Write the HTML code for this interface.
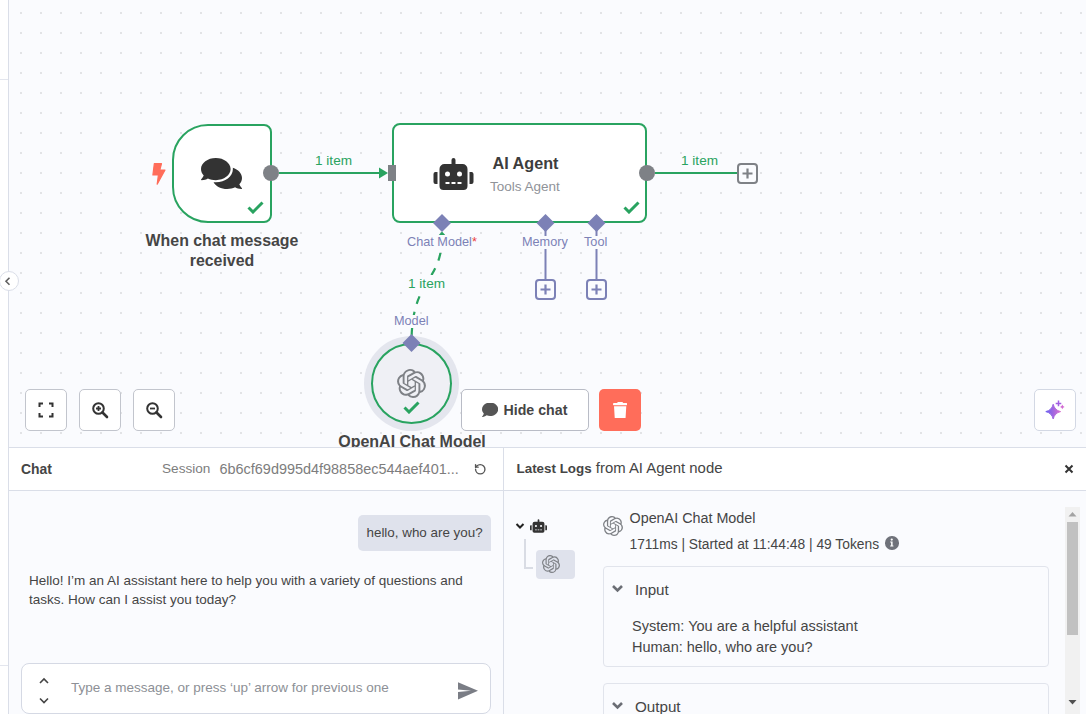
<!DOCTYPE html>
<html><head><meta charset="utf-8">
<style>
*{box-sizing:border-box;margin:0;padding:0}
html,body{width:1086px;height:714px;overflow:hidden;background:#fff;font-family:"Liberation Sans",sans-serif;color:#444}
.abs{position:absolute}
#canvas{position:absolute;left:9px;top:0;width:1077px;height:447px;background:#fafbfe;overflow:hidden}
#sidebar{position:absolute;left:0;top:0;width:9px;height:714px;background:#fff;border-right:1px solid #dadee8}
.node{position:absolute;background:#fff;border:2px solid #29a360}
.lbl{position:absolute;white-space:nowrap;font-weight:700;color:#454545;text-align:center}
.hl{position:absolute;white-space:nowrap;font-size:12.7px;color:#7c81b6}
.itm{position:absolute;white-space:nowrap;font-size:13.6px;color:#29a360}
.btn{position:absolute;background:#fff;border:1px solid #c2c5cd;border-radius:5px}
#bottom{position:absolute;left:9px;top:447px;width:1077px;height:267px;border-top:1px solid #dadee8;background:#fff}
</style></head>
<body>
<div id="sidebar"></div>
<div class="abs" style="left:0;top:79px;width:8px;height:1px;background:#e3e6ee"></div>
<div class="abs" style="left:0;top:665px;width:8px;height:1px;background:#e3e6ee"></div>

<div id="canvas">
<svg width="1077" height="447" style="position:absolute;left:0;top:0">
<defs><pattern id="dots" x="0" y="0" width="20" height="20" patternUnits="userSpaceOnUse">
<rect x="11" y="12" width="2" height="2" fill="#e2e3e6"/></pattern></defs>
<rect width="1077" height="447" fill="url(#dots)"/>
</svg>
</div>


<!-- connections -->
<svg width="1086" height="447" style="position:absolute;left:0;top:0;overflow:visible">
<line x1="279" y1="173" x2="384" y2="173" stroke="#29a360" stroke-width="2"/>
<path d="M379 167.5 L388 173 L379 178.5 Z" fill="#29a360"/>
<line x1="655" y1="173" x2="738" y2="173" stroke="#29a360" stroke-width="2"/>
<path d="M442 236 C442 284 411.5 277 411.5 343" stroke="#29a360" stroke-width="2.2" fill="none" stroke-dasharray="8 8.2" stroke-dashoffset="15.5"/>
<line x1="545.5" y1="223" x2="545.5" y2="280" stroke="#7c81b6" stroke-width="2"/>
<line x1="596.5" y1="223" x2="596.5" y2="280" stroke="#7c81b6" stroke-width="2"/>
</svg>

<!-- trigger node -->
<div class="node" style="left:171.9px;top:123.5px;width:99.8px;height:99.6px;border-radius:36px 8px 8px 36px"></div>
<svg class="abs" style="left:152px;top:162.5px" width="14" height="22" viewBox="0 0 14 22"><path d="M2.300 0.700 L9.500 0.700 L7.800 7 L13 7 L5.200 21.200 L6.400 12 L0.900 12 Z" fill="#ff6d5a" stroke="#ff6d5a" stroke-width="1.200" stroke-linejoin="round"/></svg>
<svg class="abs" style="left:201px;top:158px" width="41" height="31" viewBox="0 32 576 448" preserveAspectRatio="none"><path fill="#333" d="M416 192c0-88.400-93.100-160-208-160S0 103.600 0 192c0 34.300 14.100 65.900 38 92-13.400 30.200-35.500 54.200-35.800 54.500-2.200 2.300-2.800 5.700-1.500 8.700S4.800 352 8 352c36.600 0 66.900-12.300 88.700-25 32.200 15.700 70.300 25 111.300 25 114.900 0 208-71.600 208-160zm122 220c23.900-26 38-57.700 38-92 0-66.900-53.500-124.200-129.300-148.100.9 6.600 1.300 13.300 1.300 20.100 0 105.900-107.700 192-240 192-10.800 0-21.300-.8-31.700-1.900C207.800 439.600 281.800 480 368 480c41 0 79.100-9.200 111.300-25 21.800 12.700 52.100 25 88.700 25 3.200 0 6.100-1.900 7.300-4.800 1.300-2.900.7-6.300-1.500-8.700-.3-.3-22.400-24.200-35.800-54.500z"/></svg>
<svg class="abs" style="left:247px;top:201px" width="17" height="13" viewBox="0 0 17 13"><path d="M1.5 6.5 L6 11 L15.5 1.5" stroke="#29a360" stroke-width="3" fill="none"/></svg>
<div class="abs" style="left:263px;top:165px;width:16px;height:16px;border-radius:50%;background:#7e8186"></div>
<div class="lbl" style="left:122px;top:230.5px;width:200px;font-size:15.9px;line-height:20px">When chat message<br>received</div>
<div class="itm" style="left:315px;top:153px">1 item</div>

<!-- AI agent node -->
<div class="node" style="left:391.6px;top:123.4px;width:255.6px;height:99.6px;border-radius:8px"></div>
<div class="abs" style="left:388px;top:165px;width:8px;height:16px;background:#7e8186"></div>
<svg class="abs" style="left:433px;top:157.5px" width="41" height="32" viewBox="0 0 640 512"><path fill="#333" d="M32 224H64V416H32A31.962 31.962 0 0 1 0 384V256A31.962 31.962 0 0 1 32 224Zm512-48V448a64.063 64.063 0 0 1-64 64H160a64.063 64.063 0 0 1-64-64V176a79.974 79.974 0 0 1 80-80H288V32a32 32 0 0 1 64 0V96H464A79.974 79.974 0 0 1 544 176ZM264 256a40 40 0 1 0-40 40A39.997 39.997 0 0 0 264 256Zm-8 128H192v32h64Zm96 0H288v32h64ZM456 256a40 40 0 1 0-40 40A39.997 39.997 0 0 0 456 256Zm-8 128H384v32h64ZM640 256V384a31.962 31.962 0 0 1-32 32H576V224h32A31.962 31.962 0 0 1 640 256Z"/></svg>
<div class="lbl" style="left:492.5px;top:154px;font-size:16.2px;text-align:left;color:#3d3d3d">AI Agent</div>
<div class="abs" style="left:490px;top:179px;font-size:13.5px;color:#909399;white-space:nowrap">Tools Agent</div>
<svg class="abs" style="left:623px;top:201px" width="17" height="13" viewBox="0 0 17 13"><path d="M1.5 6.5 L6 11 L15.5 1.5" stroke="#29a360" stroke-width="3" fill="none"/></svg>
<div class="abs" style="left:639px;top:165px;width:16px;height:16px;border-radius:50%;background:#7e8186"></div>
<div class="itm" style="left:681px;top:153px">1 item</div>
<div class="abs" style="left:737px;top:163px;width:21px;height:21px;border:2px solid #7e8186;border-radius:4px;background:#fafbfe"></div>
<svg class="abs" style="left:737px;top:163px" width="21" height="21"><path d="M10.5 5.5 V15.5 M5.5 10.5 H15.5" stroke="#7e8186" stroke-width="2.2"/></svg>

<!-- diamonds -->
<svg class="abs" style="left:0;top:0" width="700" height="447">
<path d="M442 214 L451 223 L442 232 L433 223 Z" fill="#7c81b6"/>
<path d="M545.5 214 L554.5 223 L545.5 232 L536.5 223 Z" fill="#7c81b6"/>
<path d="M596.5 214 L605.5 223 L596.5 232 L587.5 223 Z" fill="#7c81b6"/>
<path d="M436.5 237.5 L442 231.5 L447.5 237.5 Z" fill="#29a360"/>
</svg>
<div class="hl" style="left:407px;top:235px;background:#fafbfe;padding:0 1px 2px 1px;margin-left:-1px">Chat Model<span style="color:#ec3c3c">*</span></div>
<div class="hl" style="left:522px;top:235.8px;line-height:13px;background:#fafbfe">Memory</div>
<div class="hl" style="left:584px;top:235.8px;line-height:13px;background:#fafbfe">Tool</div>
<div class="abs" style="left:535px;top:279px;width:21px;height:21px;border:2px solid #7c81b6;border-radius:4px;background:#fafbfe"></div>
<svg class="abs" style="left:535px;top:279px" width="21" height="21"><path d="M10.5 5.5 V15.5 M5.5 10.5 H15.5" stroke="#7c81b6" stroke-width="2.2"/></svg>
<div class="abs" style="left:586px;top:279px;width:21px;height:21px;border:2px solid #7c81b6;border-radius:4px;background:#fafbfe"></div>
<svg class="abs" style="left:586px;top:279px" width="21" height="21"><path d="M10.5 5.5 V15.5 M5.5 10.5 H15.5" stroke="#7c81b6" stroke-width="2.2"/></svg>
<div class="itm" style="left:408px;top:275px;background:#fafbfe;padding:1px 0 4px 0">1 item</div>
<div class="hl" style="left:394px;top:315.2px;line-height:13px;background:#fafbfe">Model</div>

<!-- openai node -->
<div class="abs" style="left:364px;top:336px;width:95px;height:95px;border-radius:50%;background:#e4e6ee"></div>
<div class="abs" style="left:371px;top:343px;width:81px;height:81px;border-radius:50%;background:#eff0f5;border:2px solid #29a360"></div>
<svg class="abs" style="left:397px;top:369px" width="29" height="29" viewBox="0 0 24 24"><path fill="#7e8186" d="M22.2819 9.8211a5.9847 5.9847 0 0 0-.5157-4.9108 6.0462 6.0462 0 0 0-6.5098-2.9A6.0651 6.0651 0 0 0 4.9807 4.1818a5.9847 5.9847 0 0 0-3.9977 2.9 6.0462 6.0462 0 0 0 .7427 7.0966 5.98 5.98 0 0 0 .511 4.9107 6.051 6.051 0 0 0 6.5146 2.9001A5.9847 5.9847 0 0 0 13.2599 24a6.0557 6.0557 0 0 0 5.7718-4.2058 5.9894 5.9894 0 0 0 3.9977-2.9001 6.0557 6.0557 0 0 0-.7475-7.0729zm-9.022 12.6081a4.4755 4.4755 0 0 1-2.8764-1.0408l.1419-.0804 4.7783-2.7582a.7948.7948 0 0 0 .3927-.6813v-6.7369l2.02 1.1686a.071.071 0 0 1 .038.052v5.5826a4.504 4.504 0 0 1-4.4945 4.4944zm-9.6607-4.1254a4.4708 4.4708 0 0 1-.5346-3.0137l.142.0852 4.783 2.7582a.7712.7712 0 0 0 .7806 0l5.8428-3.3685v2.3324a.0804.0804 0 0 1-.0332.0615L9.74 19.9502a4.4992 4.4992 0 0 1-6.1408-1.6464zM2.3408 7.8956a4.485 4.485 0 0 1 2.3655-1.9728V11.6a.7664.7664 0 0 0 .3879.6765l5.8144 3.3543-2.0201 1.1685a.0757.0757 0 0 1-.071 0l-4.8303-2.7865A4.504 4.504 0 0 1 2.3408 7.872zm16.5963 3.8558L13.1038 8.364 15.1192 7.2a.0757.0757 0 0 1 .071 0l4.8303 2.7913a4.4944 4.4944 0 0 1-.6765 8.1042v-5.6772a.79.79 0 0 0-.407-.667zm2.0107-3.0231l-.142-.0852-4.7735-2.7818a.7759.7759 0 0 0-.7854 0L9.409 9.2297V6.8974a.0662.0662 0 0 1 .0284-.0615l4.8303-2.7866a4.4992 4.4992 0 0 1 6.6802 4.66zM8.3065 12.863l-2.02-1.1638a.0804.0804 0 0 1-.038-.0567V6.0742a4.4992 4.4992 0 0 1 7.3757-3.4537l-.142.0805L8.704 5.459a.7948.7948 0 0 0-.3927.6813zm1.0976-2.3654l2.602-1.4998 2.6069 1.4998v2.9994l-2.5974 1.4997-2.6067-1.4997Z"/></svg>
<svg class="abs" style="left:403px;top:401px" width="17" height="13" viewBox="0 0 17 13"><path d="M1.5 6.5 L6 11 L15.5 1.5" stroke="#29a360" stroke-width="3" fill="none"/></svg>
<svg class="abs" style="left:0;top:0" width="500" height="447"><path d="M411.5 334 L420.5 343 L411.5 352 L402.5 343 Z" fill="#7c81b6"/></svg>
<div class="lbl" style="left:312px;top:431.5px;width:200px;font-size:16px;line-height:20px">OpenAI Chat Model</div>

<div id="bottom"></div>
<!-- chat panel -->
<div class="abs" style="left:9px;top:491px;width:494px;height:223px;background:#fafbfe"></div>
<div class="abs" style="left:9px;top:490px;width:494px;height:1px;background:#dadee8"></div>
<div class="abs" style="left:503px;top:448px;width:1px;height:266px;background:#dadee8"></div>
<div class="abs" style="left:21px;top:461.3px;font-size:13.9px;font-weight:700;color:#454545;white-space:nowrap">Chat</div>
<div class="abs" style="left:162px;top:461.3px;font-size:13.6px;color:#7d7d7d;white-space:nowrap">Session</div>
<div class="abs" style="left:219.5px;top:461.3px;font-size:14.45px;color:#7d7d7d;white-space:nowrap">6b6cf69d995d4f98858ec544aef401...</div>
<svg class="abs" style="left:473.5px;top:463px" width="12.5" height="12.5" viewBox="0 0 24 24"><path d="M3 12a9 9 0 1 0 9-9 9.750 9.750 0 0 0-6.740 2.740L3 8" stroke="#555" stroke-width="2.600" fill="none" stroke-linecap="round" stroke-linejoin="round"/><path d="M3 3v5h5" stroke="#555" stroke-width="2.600" fill="none" stroke-linecap="round" stroke-linejoin="round"/></svg>

<div class="abs" style="left:358px;top:515px;width:133px;height:36px;border-radius:5px 5px 0 5px;background:#dfe2ec"></div>
<div class="abs" style="left:366.5px;top:525px;font-size:13.4px;color:#454545;white-space:nowrap">hello, who are you?</div>
<div class="abs" style="left:29px;top:571px;font-size:13.5px;line-height:19px;color:#454545;white-space:nowrap">Hello! I’m an AI assistant here to help you with a variety of questions and<br>tasks. How can I assist you today?</div>

<div class="abs" style="left:21px;top:663px;width:470px;height:51px;border:1px solid #d5d9e4;border-radius:8px;background:#fff"></div>
<svg class="abs" style="left:38px;top:676px" width="12" height="30" viewBox="0 0 12 30"><path d="M2 7 L6 3 L10 7 M2 22.5 L6 26.5 L10 22.5" stroke="#444" stroke-width="1.6" fill="none"/></svg>
<div class="abs" style="left:71px;top:680px;font-size:13.5px;color:#8d9096;white-space:nowrap">Type a message, or press ‘up’ arrow for previous one</div>
<svg class="abs" style="left:456px;top:680px" width="23" height="20" viewBox="0 0 23 20"><path d="M2 2.200 L22 10.800 L2 19.600 L2 12 L15 10.800 L2 9.600 Z" fill="#7a7d85"/></svg>

<!-- logs panel -->
<div class="abs" style="left:504px;top:491px;width:582px;height:223px;background:#fafbfe"></div>
<div class="abs" style="left:504px;top:490px;width:582px;height:1px;background:#dadee8"></div>
<div class="abs" style="left:516.5px;top:459.2px;color:#454545;white-space:nowrap"><b style="font-size:13.4px">Latest Logs</b><span style="font-size:14.9px"> from AI Agent node</span></div>
<svg class="abs" style="left:1063px;top:463px" width="12" height="12" viewBox="0 0 12 12"><path d="M2.5 2.5 L9.5 9.5 M9.5 2.5 L2.5 9.5" stroke="#333" stroke-width="2"/></svg>

<svg class="abs" style="left:515px;top:521px" width="10" height="10" viewBox="0 0 10 10"><path d="M1.5 3 L5 6.5 L8.5 3" stroke="#222" stroke-width="2" fill="none"/></svg>
<svg class="abs" style="left:530px;top:519px" width="17" height="14" viewBox="0 0 640 512"><path fill="#333" d="M32 224H64V416H32A31.962 31.962 0 0 1 0 384V256A31.962 31.962 0 0 1 32 224Zm512-48V448a64.063 64.063 0 0 1-64 64H160a64.063 64.063 0 0 1-64-64V176a79.974 79.974 0 0 1 80-80H288V32a32 32 0 0 1 64 0V96H464A79.974 79.974 0 0 1 544 176ZM264 256a40 40 0 1 0-40 40A39.997 39.997 0 0 0 264 256Zm-8 128H192v32h64Zm96 0H288v32h64ZM456 256a40 40 0 1 0-40 40A39.997 39.997 0 0 0 456 256Zm-8 128H384v32h64ZM640 256V384a31.962 31.962 0 0 1-32 32H576V224h32A31.962 31.962 0 0 1 640 256Z"/></svg>
<div class="abs" style="left:524px;top:539px;width:2px;height:29px;background:#d9dce4"></div>
<div class="abs" style="left:524px;top:567px;width:9px;height:2px;background:#d9dce4"></div>
<div class="abs" style="left:536px;top:550px;width:39px;height:29px;border-radius:4px;background:#dfe2ec"></div>
<svg class="abs" style="left:542px;top:555px" width="18" height="18" viewBox="0 0 24 24"><use href="#oai" fill="#7e8186"/></svg>

<svg class="abs" style="left:603px;top:516px" width="20" height="20" viewBox="0 0 24 24"><use href="#oai" fill="#7e8186"/></svg>
<div class="abs" style="left:629.5px;top:509.5px;font-size:14.35px;color:#454545;white-space:nowrap">OpenAI Chat Model</div>
<div class="abs" style="left:629.5px;top:536.8px;font-size:13.8px;color:#454545;white-space:nowrap">1711ms | Started at 11:44:48 | 49 Tokens</div>
<div class="abs" style="left:885px;top:536px;width:13.5px;height:13.5px;border-radius:50%;background:#6f727a"></div>
<svg class="abs" style="left:885px;top:536px" width="13.5" height="13.5" viewBox="0 0 13.5 13.5"><circle cx="6.75" cy="3.6" r="1.1" fill="#fff"/><path d="M5.2 5.6 H7.6 V9.6 H8.4 V10.6 H5.2 V9.6 H6.1 V6.6 H5.2 Z" fill="#fff"/></svg>

<div class="abs" style="left:603px;top:566px;width:446px;height:101px;border:1px solid #e1e4ec;border-radius:4px;background:#fafbfe"></div>
<svg class="abs" style="left:611px;top:583px" width="13" height="11" viewBox="0 0 13 11"><path d="M2 3 L6.5 7.5 L11 3" stroke="#6b6e75" stroke-width="2.6" fill="none"/></svg>
<div class="abs" style="left:635px;top:580.5px;font-size:15.2px;color:#454545;white-space:nowrap">Input</div>
<div class="abs" style="left:632px;top:616px;font-size:14.5px;line-height:20.5px;color:#454545;white-space:nowrap">System: You are a helpful assistant<br>Human: hello, who are you?</div>
<div class="abs" style="left:603px;top:683px;width:446px;height:60px;border:1px solid #e1e4ec;border-radius:4px;background:#fafbfe"></div>
<svg class="abs" style="left:611px;top:700px" width="13" height="11" viewBox="0 0 13 11"><path d="M2 3 L6.5 7.5 L11 3" stroke="#6b6e75" stroke-width="2.6" fill="none"/></svg>
<div class="abs" style="left:635px;top:698px;font-size:15.2px;color:#454545;white-space:nowrap">Output</div>

<div class="abs" style="left:1064.5px;top:507px;width:15px;height:207px;background:#f1f1f1"></div>
<div class="abs" style="left:1067px;top:522px;width:11px;height:113px;background:#c1c1c1"></div>
<svg class="abs" style="left:1064.5px;top:507px" width="15" height="14"><path d="M3.5 9.5 L7.5 5 L11.5 9.5 Z" fill="#a3a3a3"/></svg>
<svg class="abs" style="left:1064.5px;top:696px" width="15" height="14"><path d="M3.5 4 L7.5 8.5 L11.5 4 Z" fill="#505050"/></svg>

<!-- canvas controls -->
<div class="btn" style="left:25px;top:389px;width:42px;height:42px"></div>
<svg class="abs" style="left:37px;top:401px" width="18" height="18" viewBox="0 0 18 18"><path d="M2.5 6 V2.500 H6 M12 2.500 H15.500 V6 M15.500 12 V15.500 H12 M6 15.500 H2.500 V12" stroke="#333" stroke-width="2" fill="none"/></svg>
<div class="btn" style="left:79px;top:389px;width:42px;height:42px"></div>
<svg class="abs" style="left:91px;top:401px" width="18" height="18" viewBox="0 0 18 18"><circle cx="7.5" cy="7.5" r="5.3" stroke="#333" stroke-width="2" fill="none"/><path d="M11.5 11.5 L16 16" stroke="#333" stroke-width="2.6" stroke-linecap="round"/><path d="M7.5 5 V10 M5 7.5 H10" stroke="#333" stroke-width="1.8"/></svg>
<div class="btn" style="left:133px;top:389px;width:42px;height:42px"></div>
<svg class="abs" style="left:145px;top:401px" width="18" height="18" viewBox="0 0 18 18"><circle cx="7.5" cy="7.5" r="5.3" stroke="#333" stroke-width="2" fill="none"/><path d="M11.5 11.5 L16 16" stroke="#333" stroke-width="2.6" stroke-linecap="round"/><path d="M5 7.5 H10" stroke="#333" stroke-width="1.8"/></svg>

<div class="btn" style="left:461px;top:389px;width:128px;height:42px;border-color:#b9bcc6"></div>
<svg class="abs" style="left:481.8px;top:403px" width="16.2" height="14" preserveAspectRatio="none" viewBox="0 0 512 432"><path fill="#555" d="M256 16C114.600 16 0 109.100 0 224c0 49.600 21.400 95 57 130.700C44.500 405.100 2.700 450 2.200 450.500c-2.200 2.300-2.800 5.700-1.500 8.700S4.800 464 8 464c66.300 0 116-31.800 140.600-51.400 32.700 12.300 69 19.400 107.400 19.400 141.400 0 256-93.100 256-208S397.400 16 256 16z" transform="translate(0,-32)"/></svg>
<div class="abs" style="left:503.5px;top:402px;font-size:14.2px;font-weight:700;color:#454545;white-space:nowrap">Hide chat</div>
<div class="abs" style="left:599px;top:389px;width:42px;height:42px;border-radius:5px;background:#ff6d5a"></div>
<svg class="abs" style="left:612.7px;top:402px" width="14.3" height="16" preserveAspectRatio="none" viewBox="0 0 448 480"><path fill="#fff" d="M135.200 17.700L128 32 32 32C14.300 32 0 46.300 0 64S14.300 96 32 96l384 0c17.700 0 32-14.300 32-32s-14.300-32-32-32l-96 0-7.200-14.300C307.400 6.800 296.300 0 284.200 0L163.800 0c-12.100 0-23.200 6.800-28.600 17.700zM416 128L32 128 53.200 467c1.600 25.300 22.600 45 47.900 45l245.800 0c25.300 0 46.300-19.700 47.900-45L416 128z"/></svg>

<div class="btn" style="left:1034px;top:389px;width:42px;height:42px;border-color:#d3d8e4"></div>
<svg class="abs" style="left:1041px;top:398px" width="28" height="26" viewBox="0 0 28 26">
<defs><linearGradient id="spk" x1="0" y1="0" x2="1" y2="0"><stop offset="0" stop-color="#6a5ff0"/><stop offset="1" stop-color="#d96fd0"/></linearGradient></defs>
<path d="M12.2 6.2 Q13.600 12.200 19.600 13.600 Q13.600 15 12.200 21 Q10.800 15 4.800 13.600 Q10.800 12.200 12.200 6.200 Z" fill="url(#spk)" stroke="url(#spk)" stroke-width="1" stroke-linejoin="round"/>
<path d="M17.500 2.600 V8.200 M14.700 5.400 H20.300" stroke="#a25ee2" stroke-width="1.5"/>
<path d="M21.300 6.600 Q21.700 8.500 23.600 8.900 Q21.700 9.300 21.300 11.200 Q20.900 9.300 19 8.900 Q20.900 8.500 21.300 6.600 Z" fill="#d26ad2"/>
</svg>

<div class="abs" style="left:-1.5px;top:270.5px;width:20px;height:20px;border-radius:50%;background:#fff;border:1px solid #dadee8"></div>
<svg class="abs" style="left:3px;top:276px" width="10" height="10" viewBox="0 0 10 10"><path d="M6.5 1.8 L3 5.3 L6.5 8.8" stroke="#606060" stroke-width="1.6" fill="none"/></svg>

<svg width="0" height="0" style="position:absolute"><defs><path id="oai" d="M22.2819 9.8211a5.9847 5.9847 0 0 0-.5157-4.9108 6.0462 6.0462 0 0 0-6.5098-2.9A6.0651 6.0651 0 0 0 4.9807 4.1818a5.9847 5.9847 0 0 0-3.9977 2.9 6.0462 6.0462 0 0 0 .7427 7.0966 5.98 5.98 0 0 0 .511 4.9107 6.051 6.051 0 0 0 6.5146 2.9001A5.9847 5.9847 0 0 0 13.2599 24a6.0557 6.0557 0 0 0 5.7718-4.2058 5.9894 5.9894 0 0 0 3.9977-2.9001 6.0557 6.0557 0 0 0-.7475-7.0729zm-9.022 12.6081a4.4755 4.4755 0 0 1-2.8764-1.0408l.1419-.0804 4.7783-2.7582a.7948.7948 0 0 0 .3927-.6813v-6.7369l2.02 1.1686a.071.071 0 0 1 .038.052v5.5826a4.504 4.504 0 0 1-4.4945 4.4944zm-9.6607-4.1254a4.4708 4.4708 0 0 1-.5346-3.0137l.142.0852 4.783 2.7582a.7712.7712 0 0 0 .7806 0l5.8428-3.3685v2.3324a.0804.0804 0 0 1-.0332.0615L9.74 19.9502a4.4992 4.4992 0 0 1-6.1408-1.6464zM2.3408 7.8956a4.485 4.485 0 0 1 2.3655-1.9728V11.6a.7664.7664 0 0 0 .3879.6765l5.8144 3.3543-2.0201 1.1685a.0757.0757 0 0 1-.071 0l-4.8303-2.7865A4.504 4.504 0 0 1 2.3408 7.872zm16.5963 3.8558L13.1038 8.364 15.1192 7.2a.0757.0757 0 0 1 .071 0l4.8303 2.7913a4.4944 4.4944 0 0 1-.6765 8.1042v-5.6772a.79.79 0 0 0-.407-.667zm2.0107-3.0231l-.142-.0852-4.7735-2.7818a.7759.7759 0 0 0-.7854 0L9.409 9.2297V6.8974a.0662.0662 0 0 1 .0284-.0615l4.8303-2.7866a4.4992 4.4992 0 0 1 6.6802 4.66zM8.3065 12.863l-2.02-1.1638a.0804.0804 0 0 1-.038-.0567V6.0742a4.4992 4.4992 0 0 1 7.3757-3.4537l-.142.0805L8.704 5.459a.7948.7948 0 0 0-.3927.6813zm1.0976-2.3654l2.602-1.4998 2.6069 1.4998v2.9994l-2.5974 1.4997-2.6067-1.4997Z"/></defs></svg>
</body></html>
